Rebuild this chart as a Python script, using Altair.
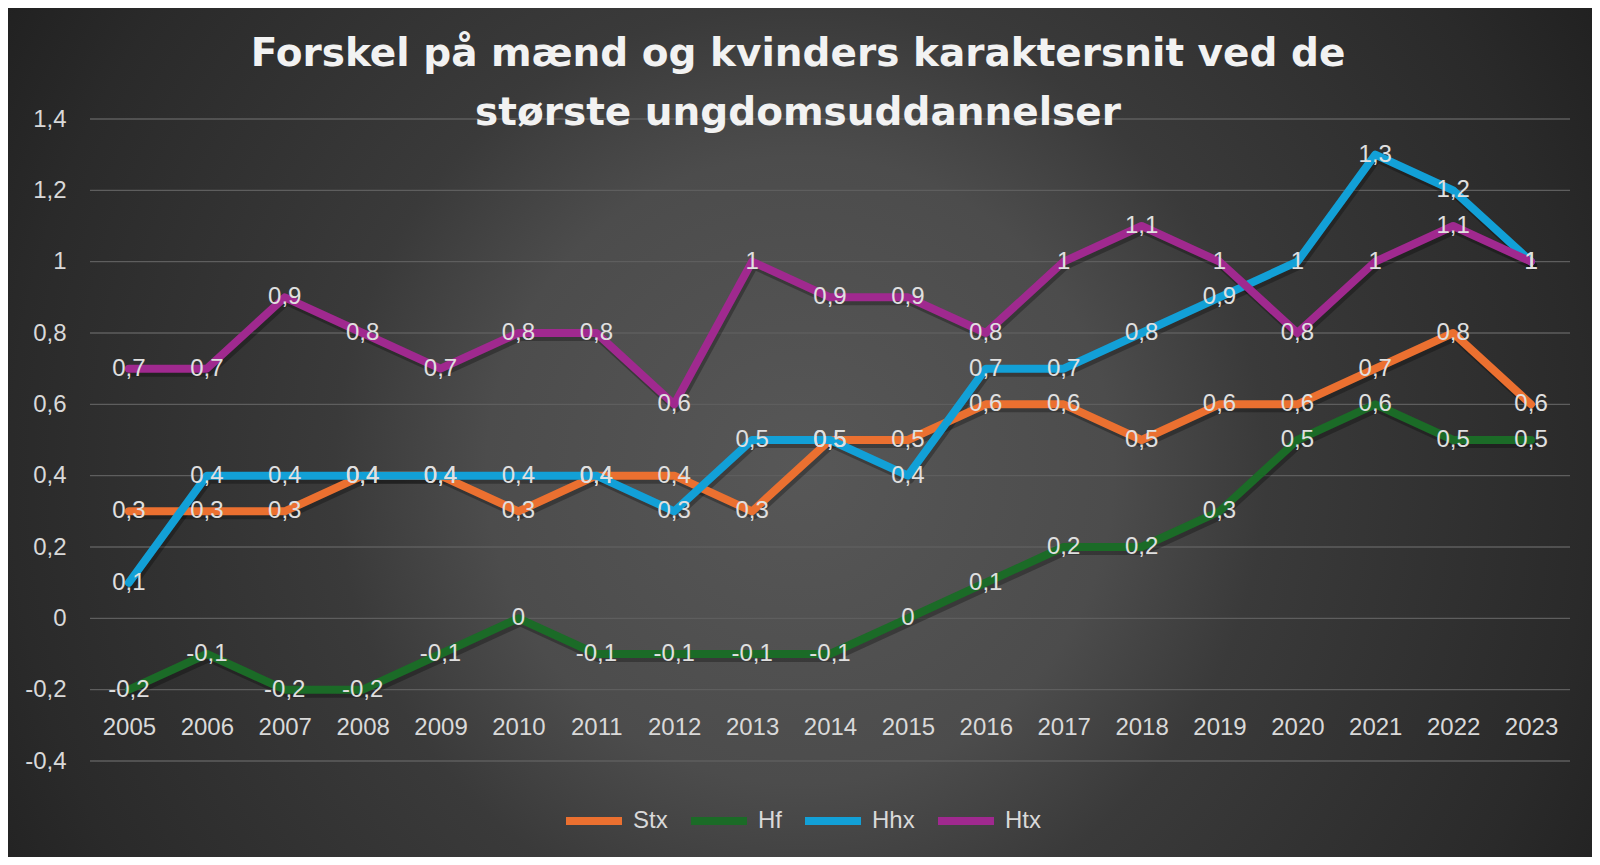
import altair as alt
import pandas as pd

years = ["2005", "2006", "2007", "2008", "2009", "2010", "2011", "2012", "2013", "2014",
         "2015", "2016", "2017", "2018", "2019", "2020", "2021", "2022", "2023"]
series = ["Stx", "Hf", "Hhx", "Htx"]
stx = [0.3, 0.3, 0.3, 0.4, 0.4, 0.3, 0.4, 0.4, 0.3, 0.5, 0.5, 0.6, 0.6, 0.5, 0.6, 0.6, 0.7, 0.8, 0.6]
hf = [-0.2, -0.1, -0.2, -0.2, -0.1, 0.0, -0.1, -0.1, -0.1, -0.1, 0.0, 0.1, 0.2, 0.2, 0.3, 0.5, 0.6, 0.5, 0.5]
hhx = [0.1, 0.4, 0.4, 0.4, 0.4, 0.4, 0.4, 0.3, 0.5, 0.5, 0.4, 0.7, 0.7, 0.8, 0.9, 1.0, 1.3, 1.2, 1.0]
htx = [0.7, 0.7, 0.9, 0.8, 0.7, 0.8, 0.8, 0.6, 1.0, 0.9, 0.9, 0.8, 1.0, 1.1, 1.0, 0.8, 1.0, 1.1, 1.0]
colors = ["#EB7030", "#1B6B27", "#12A0D7", "#A0298F"]
y_ticks = [-0.4, -0.2, 0.0, 0.2, 0.4, 0.6, 0.8, 1.0, 1.2, 1.4]
title_lines = ["Forskel på mænd og kvinders karaktersnit ved de", "største ungdomsuddannelser"]


def fmt(v):
    return f"{v:g}".replace(".", ",")


rows = []
for s, vals in zip(series, [stx, hf, hhx, htx]):
    for yr, v in zip(years, vals):
        rows.append({"year": yr, "series": s, "value": v, "label": fmt(v)})
df = pd.DataFrame(rows)
grid_df = pd.DataFrame({"tick": y_ticks})
bg_df = pd.DataFrame({"a": [0]})

W, H = 1480, 642
LABEL_FONT = "Liberation Sans"
LABEL_COLOR = "#d9d9d9"

yscale = alt.Scale(domain=[-0.4, 1.4], nice=False, zero=False)
xscale = alt.Scale(type="point", padding=0.5)

x_axis = alt.Axis(domain=False, ticks=False, grid=False, title=None, labelAngle=0,
                  labelFontSize=24, labelFont=LABEL_FONT, labelColor=LABEL_COLOR,
                  labelBaseline="middle", labelPadding=0, offset=-34, zindex=1)
y_axis = alt.Axis(values=y_ticks, domain=False, ticks=False, grid=False, title=None,
                  labelFontSize=24, labelFont=LABEL_FONT, labelColor=LABEL_COLOR,
                  labelPadding=24, zindex=1,
                  labelExpr="replace(replace(format(datum.value, '.1~f'), '.', ','), '\u2212', '-')")

gradient = {
    "gradient": "radial",
    "x1": 0.5, "y1": 0.5, "r1": 0,
    "x2": 0.5, "y2": 0.5, "r2": 0.6,
    "stops": [
        {"offset": 0.0, "color": "#575757"},
        {"offset": 0.33, "color": "#4c4c4c"},
        {"offset": 0.49, "color": "#3a3a3a"},
        {"offset": 0.83, "color": "#2a2a2a"},
        {"offset": 1.0, "color": "#1f1f1f"},
    ],
}

bg = alt.Chart(bg_df).mark_rect(fill=gradient, clip=False).encode(
    x=alt.value(-82), x2=alt.value(1502), y=alt.value(-441), y2=alt.value(1143)
)

grid = alt.Chart(grid_df).mark_rule(color="#5e5e5e", strokeWidth=1.3).encode(
    y=alt.Y("tick:Q", scale=yscale, axis=y_axis),
    x=alt.value(0), x2=alt.value(W),
)

shadow = alt.Chart(df).mark_line(color="#000000", opacity=0.28, strokeWidth=8,
                                 strokeCap="round", strokeJoin="round",
                                 xOffset=2, yOffset=4).encode(
    x=alt.X("year:O", scale=xscale, sort=years, axis=x_axis),
    y=alt.Y("value:Q", scale=yscale, axis=y_axis),
    detail="series:N",
)

lines = alt.Chart(df).mark_line(strokeWidth=8, strokeCap="round", strokeJoin="round").encode(
    x=alt.X("year:O", scale=xscale, sort=years, axis=x_axis),
    y=alt.Y("value:Q", scale=yscale, axis=y_axis),
    color=alt.Color("series:N", scale=alt.Scale(domain=series, range=colors),
                    legend=alt.Legend(orient="none", legendX=472, legendY=670,
                                      direction="horizontal", title=None,
                                      symbolType="stroke", symbolSize=3136,
                                      symbolStrokeWidth=8, labelFontSize=24,
                                      labelFont=LABEL_FONT, labelColor=LABEL_COLOR,
                                      columnPadding=7, labelOffset=7, padding=0)),
)

labels = alt.Chart(df).mark_text(fontSize=24, font=LABEL_FONT, color="#e0e0e0",
                                 baseline="middle", align="center").encode(
    x=alt.X("year:O", scale=xscale, sort=years, axis=x_axis),
    y=alt.Y("value:Q", scale=yscale, axis=y_axis),
    text="label:N",
)

chart = alt.layer(bg, grid, shadow, lines, labels).properties(
    width=W, height=H,
    autosize=alt.AutoSizeParams(type="none"),
    padding={"left": 82, "top": 111, "right": 22, "bottom": 96},
    title=alt.TitleParams(text=title_lines, font="DejaVu Sans", fontSize=39,
                          fontWeight="bold", color="#f2f2f2", anchor="middle",
                          dx=-32, offset=-494, lineHeight=59, baseline="bottom"),
).configure(background="#2c2c2c").configure_view(stroke=None)

chart.save("out.html", embed_options={"renderer": "svg", "actions": False})
